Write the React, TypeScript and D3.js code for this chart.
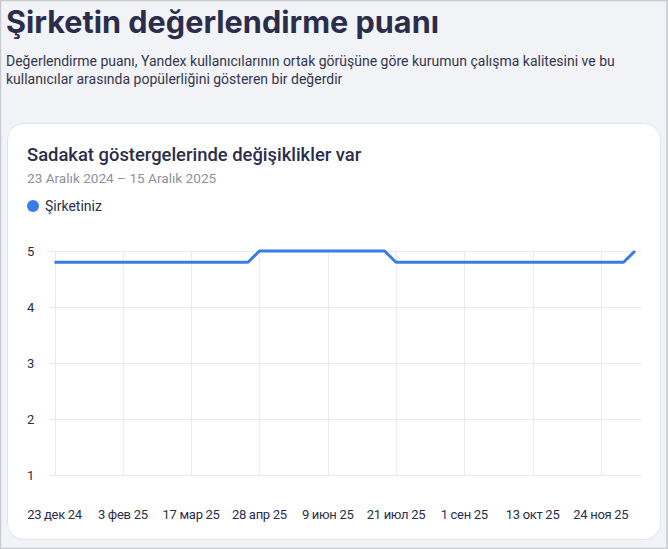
import * as d3 from "d3";
import { useEffect, useRef } from "react";

const pointDates = ["2024-12-23", "2025-04-21", "2025-04-28", "2025-07-14", "2025-07-21", "2025-12-08", "2025-12-15"];
const pointValues = [4.8, 4.8, 5.0, 5.0, 4.8, 4.8, 5.0];
const tickDates = ["2024-12-23", "2025-02-03", "2025-03-17", "2025-04-28", "2025-06-09", "2025-07-21", "2025-09-01", "2025-10-13", "2025-11-24"];
const tickLabels = ["23 дек 24", "3 фев 25", "17 мар 25", "28 апр 25", "9 июн 25", "21 июл 25", "1 сен 25", "13 окт 25", "24 ноя 25"];
const yTicks = [1, 2, 3, 4, 5];

const W = 668;
const H = 549;
const TITLE_FONT = "Inter, 'Noto Sans', sans-serif";
const FONT = "Roboto, 'Noto Sans', sans-serif";

function App() {
  const svgRef = useRef<SVGSVGElement>(null);

  useEffect(() => {
    const svg = d3.select(svgRef.current);
    svg.selectAll("*").remove();

    const parse = d3.utcParse("%Y-%m-%d");
    const data = pointDates.map((d, i) => ({ date: parse(d) as Date, value: pointValues[i] }));

    const x = d3
      .scaleUtc()
      .domain([parse("2024-12-23") as Date, parse("2025-12-15") as Date])
      .range([54.5, 635]);
    const y = d3.scaleLinear().domain([1, 5]).range([475, 251]);

    // page background + frame
    svg.append("rect").attr("width", W).attr("height", H).attr("fill", "#f2f3f7");
    svg
      .append("rect")
      .attr("x", 0.5)
      .attr("y", 0.5)
      .attr("width", W - 1.5)
      .attr("height", H - 1)
      .attr("fill", "none")
      .attr("stroke", "#c9cacf")
      .attr("stroke-width", 1.5);

    svg
      .append("text")
      .attr("x", 6)
      .attr("y", 33)
      .attr("font-family", TITLE_FONT)
      .attr("font-size", 30.6)
      .attr("font-weight", 700)
      .attr("fill", "#2b2d4b")
      .text("Şirketin değerlendirme puanı");

    const sub = [
      "Değerlendirme puanı, Yandex kullanıcılarının ortak görüşüne göre kurumun çalışma kalitesini ve bu",
      "kullanıcılar arasında popülerliğini gösteren bir değerdir",
    ];
    sub.forEach((s, i) => {
      svg
        .append("text")
        .attr("x", 6)
        .attr("y", 66 + i * 18)
        .attr("font-family", FONT)
        .attr("font-size", 14)
        .attr("fill", "#34364d")
        .text(s);
    });

    // card
    svg
      .append("rect")
      .attr("x", 7.5)
      .attr("y", 123.5)
      .attr("width", 653)
      .attr("height", 416)
      .attr("rx", 16)
      .attr("fill", "#ffffff")
      .attr("stroke", "#e3e4ea");

    svg
      .append("text")
      .attr("x", 27)
      .attr("y", 161)
      .attr("font-family", FONT)
      .attr("font-size", 18.4)
      .attr("font-weight", 500)
      .attr("fill", "#2b2d4b")
      .text("Sadakat göstergelerinde değişiklikler var");

    svg
      .append("text")
      .attr("x", 27)
      .attr("y", 183)
      .attr("font-family", FONT)
      .attr("font-size", 13.6)
      .attr("fill", "#8f909e")
      .text("23 Aralık 2024 – 15 Aralık 2025");

    svg.append("circle").attr("cx", 33).attr("cy", 206).attr("r", 6).attr("fill", "#3a7bea");
    svg
      .append("text")
      .attr("x", 45)
      .attr("y", 211)
      .attr("font-family", FONT)
      .attr("font-size", 14)
      .attr("fill", "#2b2d4b")
      .text("Şirketiniz");

    // grid
    const grid = svg.append("g").attr("stroke", "#e9e9ee").attr("stroke-width", 1);
    yTicks.forEach((t) => {
      grid
        .append("line")
        .attr("x1", 49)
        .attr("x2", 641)
        .attr("y1", Math.round(y(t)) + 0.5)
        .attr("y2", Math.round(y(t)) + 0.5);
    });
    tickDates.forEach((d) => {
      const px = Math.round(x(parse(d) as Date)) + 0.5;
      grid.append("line").attr("x1", px).attr("x2", px).attr("y1", y(5)).attr("y2", y(1));
    });

    yTicks.forEach((t) => {
      svg
        .append("text")
        .attr("x", 27)
        .attr("y", y(t) + 5)
        .attr("font-family", FONT)
        .attr("font-size", 13)
        .attr("fill", "#2b2d4b")
        .text(String(t));
    });

    tickDates.forEach((d, i) => {
      svg
        .append("text")
        .attr("x", x(parse(d) as Date))
        .attr("y", 519)
        .attr("text-anchor", "middle")
        .attr("font-family", FONT)
        .attr("font-size", 13)
        .attr("letter-spacing", -0.3)
        .attr("fill", "#2b2d4b")
        .text(tickLabels[i]);
    });

    const line = d3
      .line<{ date: Date; value: number }>()
      .x((d) => x(d.date))
      .y((d) => y(d.value));

    svg
      .append("path")
      .datum(data)
      .attr("d", line)
      .attr("fill", "none")
      .attr("stroke", "#3a7bea")
      .attr("stroke-width", 3)
      .attr("stroke-linejoin", "round");
  }, []);

  return (
    <div style={{ position: "absolute", left: 0, top: 0 }}>
      <svg ref={svgRef} width={W} height={H} style={{ display: "block" }} />
    </div>
  );
}

export default App;
